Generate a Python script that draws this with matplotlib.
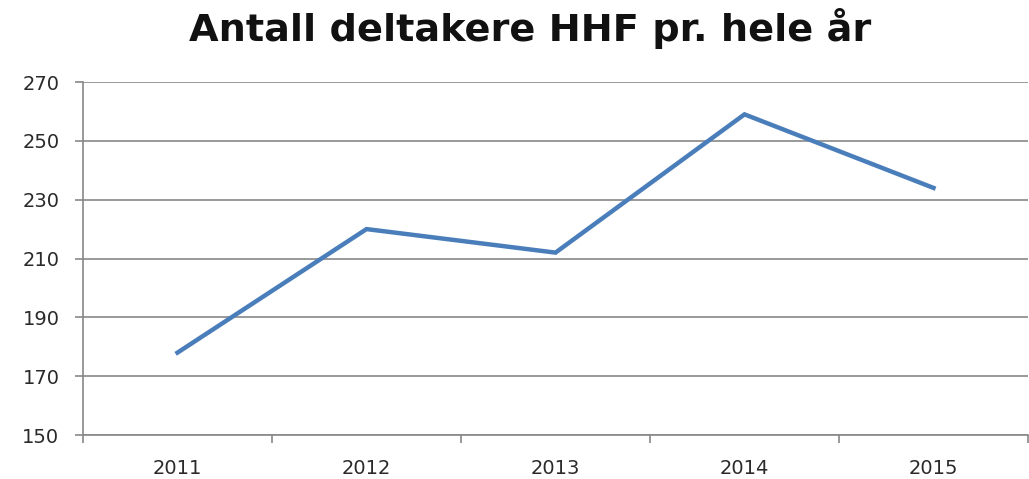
import matplotlib
matplotlib.use("Agg")
import matplotlib.pyplot as plt
import numpy as np

# Antall deltakere per år
years = ["2011", "2012", "2013", "2014", "2015"]
participants = [178, 220, 212, 259, 234]
y_ticks = [150, 170, 190, 210, 230, 250, 270]

plt.rcParams['font.family'] = ['DejaVu Sans']

fig = plt.figure(figsize=(10.29, 4.79), dpi=100)
ax = fig.add_axes([83 / 1029, 1 - 435 / 479, 945 / 1029, 353 / 479])

x = np.arange(len(years))
ax.plot(x, participants, color="#4A7EBB", linewidth=3.2, solid_joinstyle="miter")

ax.set_xlim(-0.5, len(years) - 0.5)
ax.set_ylim(y_ticks[0], y_ticks[-1])
ax.set_yticks(y_ticks)
ax.set_yticklabels([str(v) for v in y_ticks], fontsize=14, color="#2a2a2a")
ax.grid(axis="y", color="#888888", linewidth=1.2)
ax.set_axisbelow(True)

# category labels centred, tick marks at the borders
ax.set_xticks(np.arange(-0.5, len(years) + 0.5, 1.0))
ax.set_xticklabels([])
ax.set_xticks(x, minor=True)
ax.set_xticklabels(years, minor=True, fontsize=14, color="#2a2a2a")
ax.tick_params(axis="x", which="major", length=6, color="#888888", width=1.2, direction="out")
ax.tick_params(axis="x", which="minor", length=0, pad=17)
ax.tick_params(axis="y", length=6, color="#888888", width=1.2, pad=11)

for side in ["top", "right"]:
    ax.spines[side].set_visible(False)
for side in ["left", "bottom"]:
    ax.spines[side].set_color("#888888")
    ax.spines[side].set_linewidth(1.2)

fig.text(530 / 1029, 1 - 41 / 479, "Antall deltakere HHF pr. hele år",
         ha="center", va="baseline", fontsize=27.5, fontweight="bold", color="#111111")

fig.savefig("out.png", dpi=100)
